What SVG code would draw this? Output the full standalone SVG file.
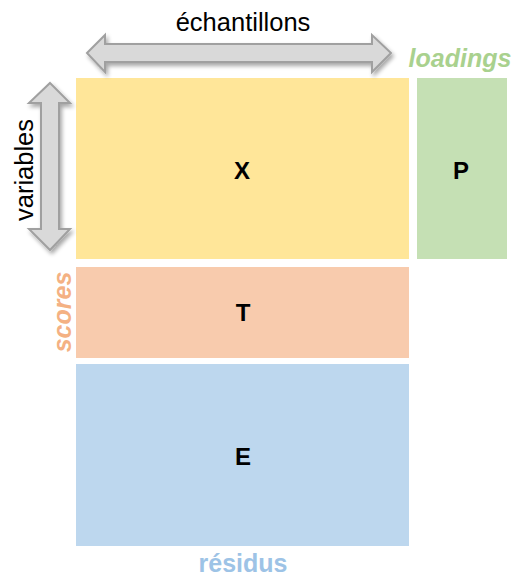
<svg xmlns="http://www.w3.org/2000/svg" width="512" height="576" viewBox="0 0 512 576">
<style>
.lbl{font-family:"Liberation Sans",Arial,sans-serif;font-weight:bold;font-size:24px;fill:#000;text-anchor:middle}
.ax{font-family:"Liberation Sans",Arial,sans-serif;font-size:25.5px;fill:#000;text-anchor:middle}
.cap{font-family:"Liberation Sans",Arial,sans-serif;font-weight:bold;font-style:italic;font-size:25px;text-anchor:middle}
.arr{fill:#d9d9d9;stroke:#a0a0a0;stroke-width:2;stroke-linejoin:miter}
</style>
<defs>
<filter id="sh" x="-20%" y="-20%" width="140%" height="140%">
<feGaussianBlur in="SourceAlpha" stdDeviation="2"/>
<feOffset dx="2" dy="3" result="b"/>
<feComponentTransfer><feFuncA type="linear" slope="0.35"/></feComponentTransfer>
<feMerge><feMergeNode/><feMergeNode in="SourceGraphic"/></feMerge>
</filter>
</defs>
<rect width="512" height="576" fill="#fff"/>
<g id="X"><rect x="76" y="78" width="333" height="181" fill="#ffe699"/><text class="lbl" x="242" y="179">X</text></g>
<g id="P"><rect x="417" y="78" width="90" height="181" fill="#c5e0b4"/><text class="lbl" x="461" y="179">P</text><text class="cap" x="460" y="67" fill="#a9d18e">loadings</text></g>
<g id="T"><rect x="76" y="267" width="333" height="91" fill="#f8cbad"/><text class="lbl" x="243" y="321">T</text><text class="cap" transform="translate(71,312) rotate(-90)" fill="#f4b183">scores</text></g>
<g id="E"><rect x="76" y="364" width="333" height="182" fill="#bdd7ee"/><text class="lbl" x="243" y="465">E</text><text class="cap" style="font-style:normal" x="243" y="572" fill="#9dc3e6">résidus</text></g>
<g id="connectors">
<path class="arr" filter="url(#sh)" d="M87,53 L105,35 L105,44 L372,44 L372,35 L391,53 L372,72 L372,62 L105,62 L105,72 Z"/>
<path class="arr" filter="url(#sh)" d="M50,83 L70,103 L59,103 L59,229 L70,229 L50,250 L29,229 L41,229 L41,103 L29,103 Z"/>
<text class="ax" x="243" y="31">échantillons</text>
<text class="ax" transform="translate(33,170) rotate(-90)">variables</text>
</g>
</svg>
